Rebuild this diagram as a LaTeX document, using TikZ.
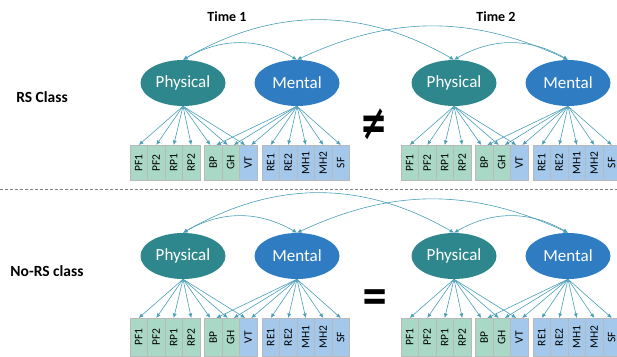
\documentclass[tikz,border=0pt]{standalone}
\usepackage{fontspec}
\setmainfont{Carlito}
\newfontfamily\symfont{DejaVu Sans}
\usetikzlibrary{positioning, arrows.meta, shapes.geometric}

\definecolor{physcol}{HTML}{2E878C}
\definecolor{mentcol}{HTML}{2F7CC3}
\definecolor{greenbox}{HTML}{A9D9C6}
\definecolor{bluebox}{HTML}{A3C8EB}
\definecolor{linkcol}{HTML}{4A9EB8}

\tikzstyle{Factor} = [ellipse, minimum width=85pt, minimum height=46pt,
inner sep=0pt, text=white, font=\fontsize{17}{17}\selectfont]
\tikzstyle{Item} = [draw=gray!55, line width=0.5pt, minimum width=17.5pt,
inner sep=0pt, anchor=north, font=\fontsize{11.5}{11.5}\selectfont]
\tikzstyle{Load} = [linkcol, line width=0.6pt,
-{Latex[length=4.5pt, width=4pt]}]
\tikzstyle{Cov} = [linkcol, line width=0.6pt,
{Latex[length=4.5pt, width=4pt]}-{Latex[length=4.5pt, width=4pt]}]
\tikzstyle{Title} = [font=\bfseries\fontsize{14}{14}\selectfont]
\tikzstyle{Class} = [font=\bfseries\fontsize{15.5}{15.5}\selectfont]
\tikzstyle{Sign} = [font=\symfont\bfseries\fontsize{36}{36}\selectfont]

\begin{document}
\begin{tikzpicture}[x=1pt, y=1pt]
    \useasboundingbox (0,0) rectangle (617,356);
    \clip (0,0) rectangle (617,356);

    \node [Title](time1) at (227,339.5){Time 1};
    \node [Title](time2) at (496,339.5){Time 2};
    \node [Class](rs) at (42,259){RS Class};
    \node [Class](nors) at (47,85){No-RS class};

    \node [Sign](neq) at (374,232){\scalebox{0.9}[1.35]{≠}};
    \node [Sign](eq) at (375,56){\scalebox{0.9}[1.2]{=}};

    % separator between the two classes
    \coordinate (sepL) at (0,167);
    \coordinate (sepR) at (617,167);
    \draw [gray, line width=0.8pt, dash pattern=on 3pt off 2pt] (sepL) -- (sepR);

    % one measurement model per class (a, b) and per time (1, 2)
    \foreach \dy/\pn/\bh in {0/a/35, -173/b/38}{
    \foreach \dx/\tn in {0/1, 271/2}{
        \node [Factor, fill=physcol](phys\tn\pn) at (183+\dx,273+\dy){Physical};
        \node [Factor, fill=mentcol](ment\tn\pn) at (297+\dx,273+\dy){Mental};

        \foreach \lab/\cx/\col in {PF1/138.75/greenbox, PF2/156.25/greenbox,
                RP1/173.75/greenbox, RP2/191.25/greenbox, BP/213.25/greenbox,
                GH/230.75/greenbox, VT/248.25/bluebox, RE1/270.75/bluebox,
                RE2/288.25/bluebox, MH1/305.75/bluebox, MH2/323.25/bluebox,
                SF/340.75/bluebox}
            \node [Item, fill=\col, minimum height=\bh pt](\lab\tn\pn)
                at (\cx+\dx,211+\dy){\rotatebox{90}{\lab}};

        \foreach \lab in {PF1, PF2, RP1, RP2}
            \draw [Load] (phys\tn\pn.south) -- (\lab\tn\pn.north);
        \foreach \lab in {BP, GH, VT}{
            \draw [Load] (phys\tn\pn.south) -- ([xshift=-3pt]\lab\tn\pn.north);
            \draw [Load] (ment\tn\pn.south) -- ([xshift=3pt]\lab\tn\pn.north);
        }
        \foreach \lab in {RE1, RE2, MH1, MH2, SF}
            \draw [Load] (ment\tn\pn.south) -- (\lab\tn\pn.north);

        \draw [Cov] (phys\tn\pn.north) to [out=30, in=150] (ment\tn\pn.north);
    }
        \draw [Cov] (phys1\pn.north) to [out=30, in=150] (phys2\pn.north);
        \draw [Cov] (ment1\pn.north) to [out=25, in=155] (ment2\pn.north);
    }
\end{tikzpicture}
\end{document}
